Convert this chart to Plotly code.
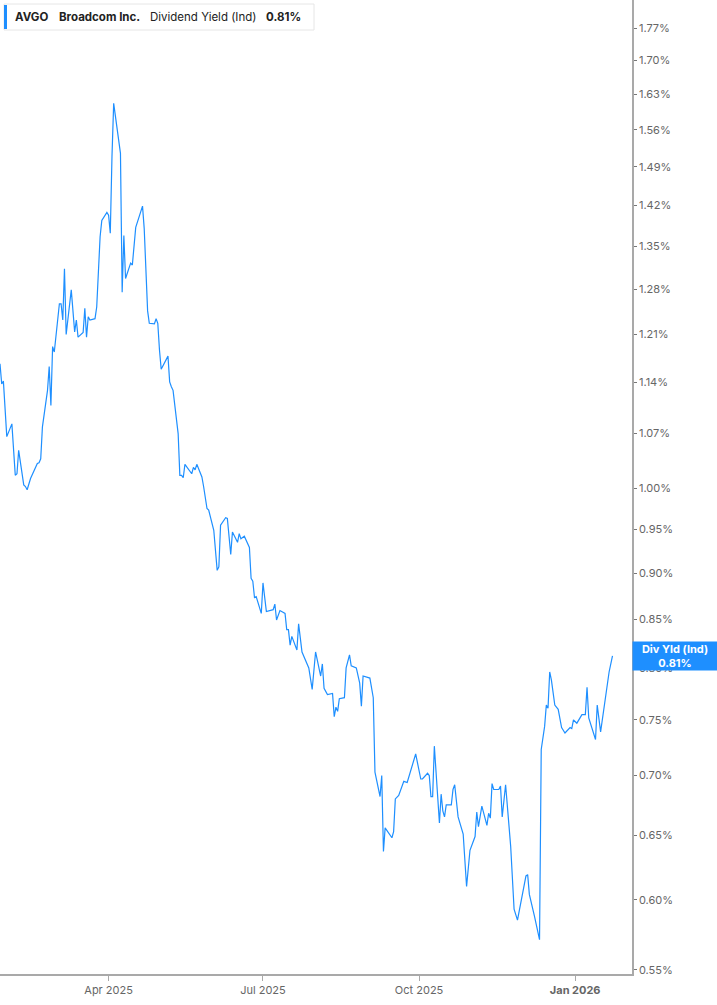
import math
import plotly.graph_objects as go

# AVGO indicated dividend yield, in percent
dates = [
    "2025-01-27", "2025-01-28", "2025-01-29", "2025-01-30", "2025-01-31", "2025-02-03",
    "2025-02-05", "2025-02-06", "2025-02-07", "2025-02-10", "2025-02-11", "2025-02-12",
    "2025-02-14", "2025-02-18", "2025-02-19", "2025-02-20", "2025-02-21", "2025-02-24",
    "2025-02-25", "2025-02-26", "2025-02-27", "2025-02-28", "2025-03-03", "2025-03-04",
    "2025-03-05", "2025-03-06", "2025-03-07", "2025-03-10", "2025-03-12", "2025-03-13",
    "2025-03-14", "2025-03-17", "2025-03-18", "2025-03-19", "2025-03-20", "2025-03-21",
    "2025-03-24", "2025-03-25", "2025-03-27", "2025-03-28", "2025-03-31", "2025-04-01",
    "2025-04-02", "2025-04-03", "2025-04-04", "2025-04-08", "2025-04-09", "2025-04-10",
    "2025-04-11", "2025-04-14", "2025-04-15", "2025-04-17", "2025-04-21", "2025-04-22",
    "2025-04-24", "2025-04-25", "2025-04-28", "2025-04-29", "2025-04-30", "2025-05-01",
    "2025-05-02", "2025-05-06", "2025-05-07", "2025-05-08", "2025-05-09", "2025-05-12",
    "2025-05-13", "2025-05-14", "2025-05-15", "2025-05-16", "2025-05-20", "2025-05-21",
    "2025-05-22", "2025-05-23", "2025-05-26", "2025-05-27", "2025-05-29", "2025-05-30",
    "2025-06-02", "2025-06-04", "2025-06-05", "2025-06-06", "2025-06-09", "2025-06-10",
    "2025-06-12", "2025-06-13", "2025-06-16", "2025-06-17", "2025-06-18", "2025-06-20",
    "2025-06-23", "2025-06-24", "2025-06-25", "2025-06-26", "2025-06-27", "2025-06-30",
    "2025-07-01", "2025-07-03", "2025-07-07", "2025-07-08", "2025-07-09", "2025-07-11",
    "2025-07-14", "2025-07-15", "2025-07-16", "2025-07-17", "2025-07-18", "2025-07-21",
    "2025-07-22", "2025-07-24", "2025-07-28", "2025-07-30", "2025-08-01", "2025-08-04",
    "2025-08-05", "2025-08-06", "2025-08-08", "2025-08-11", "2025-08-12", "2025-08-13",
    "2025-08-14", "2025-08-15", "2025-08-18", "2025-08-19", "2025-08-21", "2025-08-22",
    "2025-08-25", "2025-08-27", "2025-08-28", "2025-08-29", "2025-09-02", "2025-09-04",
    "2025-09-05", "2025-09-08", "2025-09-09", "2025-09-10", "2025-09-11", "2025-09-12",
    "2025-09-15", "2025-09-16", "2025-09-17", "2025-09-19", "2025-09-22", "2025-09-24",
    "2025-09-29", "2025-10-02", "2025-10-03", "2025-10-06", "2025-10-07", "2025-10-08",
    "2025-10-09", "2025-10-10", "2025-10-13", "2025-10-14", "2025-10-15", "2025-10-16",
    "2025-10-17", "2025-10-20", "2025-10-21", "2025-10-22", "2025-10-24", "2025-10-27",
    "2025-10-29", "2025-10-31", "2025-11-03", "2025-11-04", "2025-11-05", "2025-11-07",
    "2025-11-10", "2025-11-11", "2025-11-12", "2025-11-13", "2025-11-14", "2025-11-17",
    "2025-11-18", "2025-11-19", "2025-11-21", "2025-11-24", "2025-11-25", "2025-11-26",
    "2025-11-28", "2025-12-01", "2025-12-03", "2025-12-04", "2025-12-05", "2025-12-08",
    "2025-12-11", "2025-12-12", "2025-12-14", "2025-12-15", "2025-12-16", "2025-12-17",
    "2025-12-18", "2025-12-20", "2025-12-22", "2025-12-24", "2025-12-26", "2025-12-29",
    "2025-12-30", "2025-12-31", "2026-01-02", "2026-01-05", "2026-01-07", "2026-01-08",
    "2026-01-09", "2026-01-13", "2026-01-14", "2026-01-16", "2026-01-21", "2026-01-23",
]

div_yield = [
    1.167, 1.138, 1.142, 1.093, 1.066, 1.083,
    1.016, 1.018, 1.048, 1.004, 1.002, 0.998,
    1.012, 1.031, 1.032, 1.037, 1.079, 1.129,
    1.163, 1.108, 1.192, 1.184, 1.257, 1.257,
    1.232, 1.313, 1.210, 1.279, 1.214, 1.232,
    1.206, 1.213, 1.250, 1.206, 1.237, 1.232,
    1.234, 1.252, 1.366, 1.394, 1.408, 1.403,
    1.372, 1.509, 1.612, 1.515, 1.275, 1.368,
    1.297, 1.322, 1.319, 1.382, 1.419, 1.380,
    1.246, 1.227, 1.226, 1.234, 1.227, 1.187,
    1.159, 1.178, 1.141, 1.134, 1.129, 1.070,
    1.016, 1.016, 1.013, 1.030, 1.018, 1.026,
    1.023, 1.030, 1.014, 1.002, 0.975, 0.973,
    0.949, 0.903, 0.907, 0.955, 0.964, 0.963,
    0.921, 0.947, 0.935, 0.945, 0.939, 0.942,
    0.929, 0.894, 0.891, 0.873, 0.874, 0.856,
    0.889, 0.858, 0.860, 0.866, 0.849, 0.859,
    0.856, 0.839, 0.839, 0.823, 0.832, 0.818,
    0.845, 0.816, 0.800, 0.779, 0.816, 0.792,
    0.804, 0.780, 0.774, 0.775, 0.753, 0.762,
    0.758, 0.770, 0.771, 0.800, 0.813, 0.802,
    0.800, 0.785, 0.763, 0.792, 0.790, 0.771,
    0.703, 0.682, 0.700, 0.637, 0.656, 0.654,
    0.648, 0.653, 0.680, 0.683, 0.695, 0.694,
    0.719, 0.697, 0.697, 0.702, 0.700, 0.682,
    0.682, 0.726, 0.660, 0.684, 0.670, 0.665,
    0.675, 0.675, 0.688, 0.692, 0.665, 0.651,
    0.610, 0.638, 0.649, 0.669, 0.657, 0.674,
    0.658, 0.668, 0.664, 0.693, 0.688, 0.688,
    0.691, 0.665, 0.692, 0.641, 0.620, 0.593,
    0.585, 0.605, 0.618, 0.619, 0.604, 0.588,
    0.571, 0.723, 0.744, 0.764, 0.761, 0.796,
    0.788, 0.764, 0.760, 0.743, 0.738, 0.743,
    0.742, 0.750, 0.747, 0.755, 0.755, 0.781,
    0.752, 0.732, 0.764, 0.739, 0.796, 0.812,
]

y_ticks = [0.55, 0.60, 0.65, 0.70, 0.75, 0.80, 0.85, 0.90, 0.95, 1.00, 1.07,
           1.14, 1.21, 1.28, 1.35, 1.42, 1.49, 1.56, 1.63, 1.70, 1.77]
x_ticks = ["2025-04-01", "2025-07-01", "2025-10-01", "2026-01-01"]
x_tick_labels = ["Apr 2025", "Jul 2025", "Oct 2025", "<b>Jan 2026</b>"]

ticker = "AVGO"
company = "Broadcom Inc."
metric = "Dividend Yield (Ind)"
last_label = "0.81%"

BLUE = "#1e8fff"
AXIS = "#a9a9a9"
W, H = 717, 1005
ML, MR, MT, MB = 0, 85, 0, 31
PW, PH = W - ML - MR, H - MT - MB


def px_x(p):
    return p / PW


def px_y(p):
    return 1 - p / PH


fig = go.Figure()
fig.add_trace(go.Scatter(
    x=dates, y=div_yield, mode="lines",
    line=dict(color=BLUE, width=1.2),
    hoverinfo="skip", showlegend=False,
))

fig.update_layout(
    width=W, height=H,
    margin=dict(l=ML, r=MR, t=MT, b=MB),
    paper_bgcolor="white", plot_bgcolor="white",
    font=dict(family="Inter, Roboto, sans-serif", color="#666666", size=11),
    showlegend=False,
)

fig.update_xaxes(
    type="date",
    range=["2025-01-27", "2026-02-03 12:00"],
    tickvals=x_ticks, ticktext=x_tick_labels,
    showgrid=False, zeroline=False,
    showline=True, linecolor=AXIS, linewidth=2,
    ticks="outside", ticklen=5, tickcolor=AXIS, tickwidth=1,
    tickfont=dict(size=11, color="#666666"),
)

fig.update_yaxes(
    type="log", side="right",
    range=[math.log10(0.5472), math.log10(1.8326)],
    tickvals=y_ticks, ticktext=[f"{v:.2f}%" for v in y_ticks],
    showgrid=False, zeroline=False,
    showline=True, linecolor=AXIS, linewidth=1.5,
    ticks="outside", ticklen=3, tickcolor="#777777",
    tickfont=dict(size=11, color="#666666"),
)

# header box top-left
fig.add_shape(type="rect", xref="paper", yref="paper",
              x0=px_x(4), x1=px_x(314), y0=px_y(30), y1=px_y(4),
              line=dict(color="#e6e6e6", width=1), fillcolor="white", layer="above")
fig.add_shape(type="rect", xref="paper", yref="paper",
              x0=px_x(4), x1=px_x(7), y0=px_y(29), y1=px_y(5),
              line=dict(width=0), fillcolor=BLUE, layer="above")

header = [(13, f"<b>{ticker}</b>"), (57, f"<b>{company}</b>"),
          (148, metric), (264, f"<b>{last_label}</b>")]
for xp, txt in header:
    fig.add_annotation(xref="paper", yref="paper", x=px_x(xp), y=px_y(17),
                       xanchor="left", yanchor="middle", text=txt, showarrow=False,
                       font=dict(size=11.5, color="#222222"))

# last value flag on the right axis
fig.add_annotation(xref="paper", yref="y", x=1, y=math.log10(div_yield[-1]),
                   xanchor="left", yanchor="middle",
                   text=f"<b>Div Yld (Ind)</b><br><b>{last_label}</b>",
                   showarrow=False, bgcolor=BLUE, width=80, height=24, borderpad=2,
                   font=dict(size=11, color="white"), align="center")

fig.write_html("out.html", config={"displayModeBar": False},
               post_script="document.body.style.margin = '0px';")
